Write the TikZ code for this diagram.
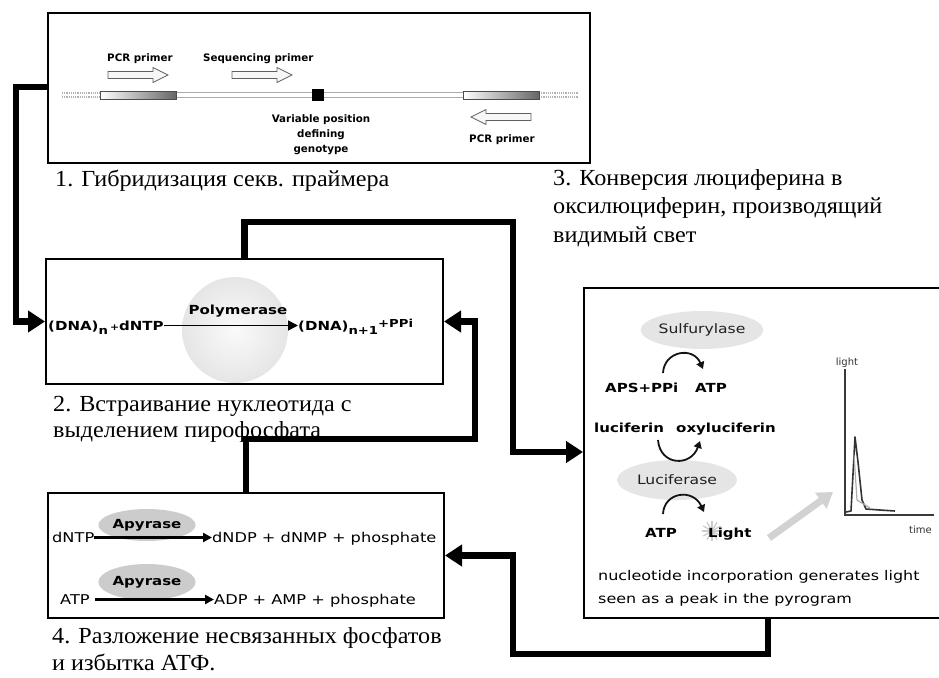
\documentclass[tikz,border=0pt]{standalone}
\usepackage{fontspec}
\setmainfont{Liberation Serif}
\newfontfamily\capfont[FakeStretch=1.05]{Liberation Serif}
\newfontfamily\sst[FakeStretch=1.2]{DejaVu Sans}
\newfontfamily\ssn{DejaVu Sans}
\usetikzlibrary{arrows.meta,shapes.geometric}
\tikzset{
  box/.style={draw, line width=2pt, rectangle, inner sep=0pt, anchor=north west},
  conn/.style={line width=6.5pt, -{Triangle[length=17pt,width=21pt]}},
  caption/.style={anchor=base west, inner sep=0pt, font=\capfont\fontsize{23}{26}\selectfont},
  toplbl/.style={inner sep=0pt, font=\ssn\bfseries\fontsize{10.3}{12}\selectfont},
  chem/.style={inner sep=0pt, anchor=base west, font=\sst\bfseries\fontsize{12.5}{14}\selectfont},
  plain/.style={inner sep=0pt, anchor=base west, font=\sst\fontsize{13.5}{16}\selectfont},
  note/.style={inner sep=0pt, anchor=base west, font=\sst\fontsize{13.3}{16}\selectfont},
  enz/.style={ellipse, inner sep=0pt, fill=gray!20, text=gray!25!black, font=\sst\fontsize{13}{14}\selectfont},
  apy/.style={ellipse, inner sep=0pt, fill=gray!40, font=\sst\bfseries\fontsize{12.5}{14}\selectfont},
  harrow/.style={draw=gray!75!black, fill=gray!6, line width=0.7pt, line join=miter},
  dotline/.style={gray!60, line width=1.2pt, dash pattern=on 1.2pt off 1pt},
  curv/.style={line width=1.8pt, draw=gray!15!black, -{Triangle[length=7pt,width=8pt]}},
  rxn/.style={line width=2.2pt, -{Triangle[length=9pt,width=9pt]}},
  graphlbl/.style={inner sep=0pt, text=gray!40!black, font=\ssn\fontsize{10}{12}\selectfont},
  hollowarrow/.pic={\draw[harrow] (0,-3.5) -- (45,-3.5) -- (45,-7.5) -- (60,0) -- (45,7.5) -- (45,3.5) -- (0,3.5) -- cycle;}
}
\begin{document}
\begin{tikzpicture}[x=1pt, y=-1pt]
\useasboundingbox (0,0) rectangle (939,677);
\clip (0,0) rectangle (939,677);

% ---------- boxes ----------
\node[box, minimum width=542pt, minimum height=150pt] (b1) at (47,12) {};
\node[box, minimum width=397pt, minimum height=125pt] (b2) at (45,258) {};
\node[box, minimum width=420pt, minimum height=330pt] (b3) at (583,287) {};
\node[box, minimum width=396pt, minimum height=125pt] (b4) at (47,492) {};

% ---------- box 1: primers ----------
\draw[dotline] (62,93) -- (100,93);
\draw[dotline] (62,97) -- (100,97);
\draw[dotline] (539,93) -- (578,93);
\draw[dotline] (539,97) -- (578,97);
\draw[gray!65, fill=white, line width=0.8pt] (176,92.5) rectangle (463,97.5);
\shade[left color=white, right color=gray!80!black] (100,91) rectangle (176,99);
\draw[gray!60!black, line width=0.6pt] (100,91) rectangle (176,99);
\shade[left color=white, right color=gray!80!black] (463,91) rectangle (539,99);
\draw[gray!60!black, line width=0.6pt] (463,91) rectangle (539,99);
\fill (312,89) rectangle (324,101);
\pic at (108,75) {hollowarrow};
\pic at (232,75) {hollowarrow};
\pic[xscale=-1] at (531,117) {hollowarrow};
\node[toplbl, anchor=base west] (pcr1) at (107,62) {PCR primer};
\node[toplbl, anchor=base west] (seq) at (203,62) {Sequencing primer};
\node[toplbl, anchor=base] (var1) at (321,122) {Variable position};
\node[toplbl, anchor=base] (var2) at (321,137) {defining};
\node[toplbl, anchor=base] (var3) at (321,152) {genotype};
\node[toplbl, anchor=base west] (pcr2) at (469,142) {PCR primer};

% ---------- box 2: polymerase ----------
\shade[inner color=gray!4, outer color=gray!20] (235,330) circle (53pt);
\node[chem] (lhs) at (48,330) {(DNA)\raisebox{-4pt}{\fontsize{11}{12}\selectfont n}\,{\fontsize{9}{10}\selectfont +}dNTP};
\node[chem] (rhs) at (298,330) {(DNA)\raisebox{-4pt}{\fontsize{11}{12}\selectfont n+1}\raisebox{3pt}{\fontsize{11}{12}\selectfont +PPi}};
\node[chem, anchor=base] (poly) at (238,314) {Polymerase};
\draw[line width=1.6pt, -{Triangle[length=10pt,width=10pt]}] ([yshift=4.5pt]lhs.base east) -- ([yshift=4.5pt]rhs.base west);

% ---------- box 3: luciferase ----------
\node[enz, minimum width=94pt, minimum height=38pt] (sulf) at (702,330) {Sulfurylase};
\node[enz, minimum width=120pt, minimum height=40pt] (lucif) at (677,480) {Luciferase};
\draw[curv] (663,373) .. controls (664,351) and (693,346) .. (703,369);
\draw[curv] (658,440) .. controls (660,466) and (691,467) .. (700,441);
\draw[curv] (663,514) .. controls (664,492) and (693,488) .. (704,512);
\node[chem] (aps) at (605,392) {APS+PPi};
\node[chem] (atpa) at (695,392) {ATP};
\node[chem] (luc) at (594,432) {luciferin};
\node[chem] (oxy) at (676,432) {oxyluciferin};
\foreach \a in {0,30,...,330} \draw[gray!40, line width=1.3pt] (712,531) -- ++(\a:10pt);
\node[chem] (atpl) at (645,537) {ATP};
\node[chem] (light) at (708,537) {Light};
\draw[gray!35, line width=7pt, -{Triangle[length=15pt,width=19pt]}] (769,538) -- (833,492);
\draw[gray!45!black, line width=2.2pt] (845,369) -- (845,515) -- (934,515);
\draw[gray!40!black, line width=1.6pt, line join=round] (846,512) -- (851,511) -- (855,437) -- (858,462) -- (862,500) -- (866,509) -- (880,510) -- (895,511);
\draw[gray!65, line width=1.2pt] (854,455) -- (857,500) -- (870,508);
\node[graphlbl, anchor=base] (lightlbl) at (847,365) {light};
\node[graphlbl, anchor=base west] (timelbl) at (909,533) {time};
\node[note] (n1) at (598,580) {nucleotide incorporation generates light};
\node[note] (n2) at (598,603) {seen as a peak in the pyrogram};

% ---------- box 4: apyrase ----------
\node[apy, minimum width=94pt, minimum height=32pt] (apy1) at (147,525) {Apyrase};
\node[apy, minimum width=94pt, minimum height=36pt] (apy2) at (147,582) {Apyrase};
\node[plain] (dntp) at (52,542) {dNTP};
\node[plain] (dndp) at (212,542) {dNDP + dNMP + phosphate};
\node[plain] (atpb) at (60,604) {ATP};
\node[plain] (adp) at (214,604) {ADP + AMP + phosphate};
\draw[rxn] ([yshift=4.5pt]dntp.base east) -- ([yshift=4.5pt]dndp.base west);
\draw[rxn] ([xshift=5pt,yshift=4.5pt]atpb.base east) -- ([yshift=4.5pt]adp.base west);

% ---------- captions ----------
\node[caption] (cap1) at (55,186) {1. Гибридизация секв. праймера};
\node[caption] (cap2a) at (53,411) {2. Встраивание нуклеотида с};
\node[caption] (cap2b) at (53,437) {выделением пирофосфата};
\node[caption] (cap3a) at (553,185) {3. Конверсия люциферина в};
\node[caption] (cap3b) at (553,213) {оксилюциферин, производящий};
\node[caption] (cap3c) at (553,242) {видимый свет};
\node[caption] (cap4a) at (52,643) {4. Разложение несвязанных фосфатов};
\node[caption] (cap4b) at (52,670) {и избытка АТФ.};

% ---------- connectors ----------
\draw[conn] (b1.west |- 0,87) -- (16,87) |- (b2.west);
\draw[conn] (b2.north) |- (513,222) |- (b3.west |- 0,452);
\draw[conn] (b4.north) |- (475,439) |- (b2.east);
\draw[conn] (b3.south -| 768,0) |- (513,654) |- (b4.east);
\end{tikzpicture}
\end{document}
